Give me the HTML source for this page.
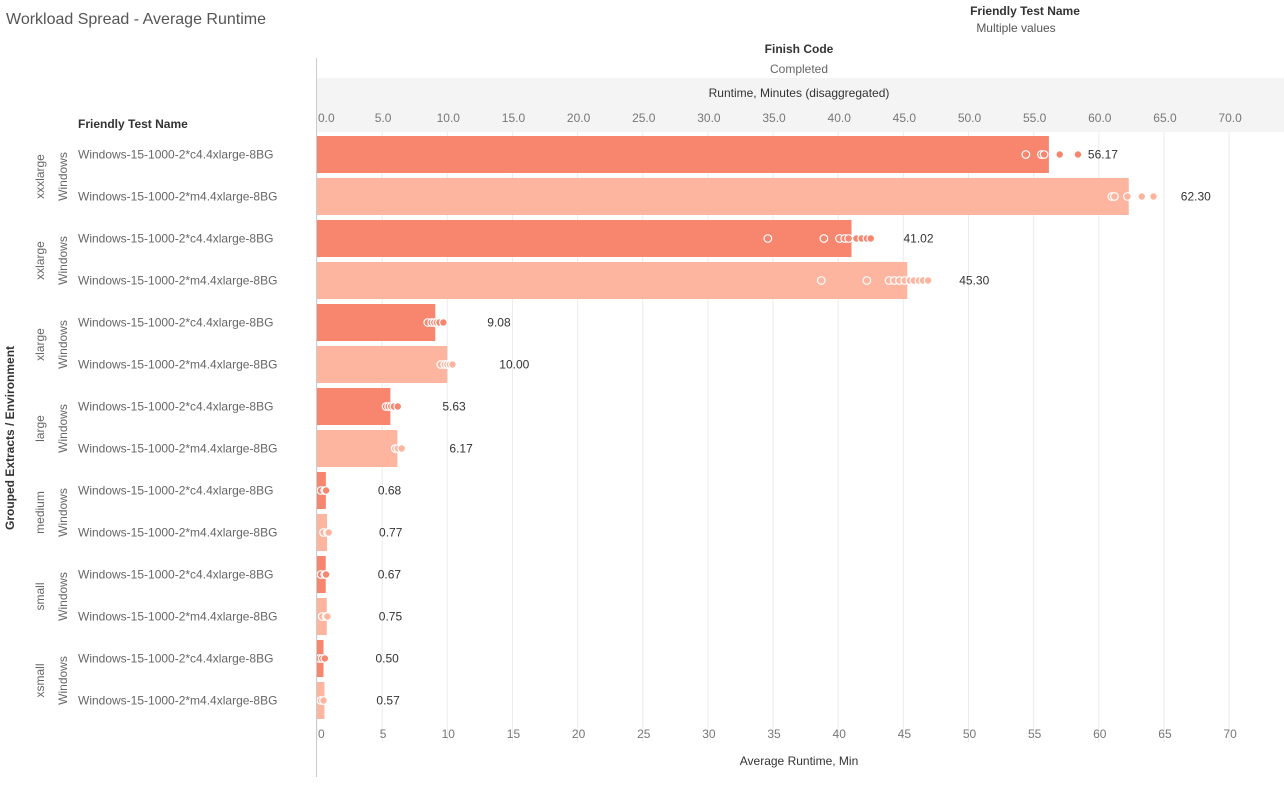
<!DOCTYPE html>
<html><head><meta charset="utf-8"><style>
body{margin:0;background:#fff;font-family:"Liberation Sans",sans-serif;}
svg text{font-family:"Liberation Sans",sans-serif;}
</style></head><body>
<svg id="chart" width="1284" height="784" xmlns="http://www.w3.org/2000/svg">
<text x="6" y="24" font-size="16" fill="#555">Workload Spread - Average Runtime</text>
<text x="1025" y="15" font-size="12" fill="#333" text-anchor="middle" font-weight="bold">Friendly Test Name</text>
<text x="1016" y="32" font-size="12" fill="#555" text-anchor="middle">Multiple values</text>
<text x="799" y="53" font-size="12" fill="#333" text-anchor="middle" font-weight="bold">Finish Code</text>
<text x="799" y="73" font-size="12" fill="#666" text-anchor="middle">Completed</text>
<rect x="317" y="78" width="967" height="54" fill="#f4f4f4"/>
<text x="799" y="97" font-size="12" fill="#333" text-anchor="middle">Runtime, Minutes (disaggregated)</text>
<text x="78" y="128" font-size="12" fill="#333" font-weight="bold">Friendly Test Name</text>
<text transform="translate(14,438) rotate(-90)" font-size="12" fill="#333" font-weight="bold" text-anchor="middle">Grouped Extracts / Environment</text>
<text x="799" y="765" font-size="12" fill="#333" text-anchor="middle">Average Runtime, Min</text>
<g id="grid"></g><g id="marks"></g>
<line x1="316.5" y1="58" x2="316.5" y2="777" stroke="#ccc"/>
</svg>
<script>
const groups = ["xxxlarge","xxlarge","xlarge","large","medium","small","xsmall"];
const tests = ["Windows-15-1000-2*c4.4xlarge-8BG","Windows-15-1000-2*m4.4xlarge-8BG"];
const avgValues = [56.17,62.30,41.02,45.30,9.08,10.00,5.63,6.17,0.68,0.77,0.67,0.75,0.50,0.57];
const runs = [
 [54.4,55.6,55.8,57.0,58.4],
 [61.0,61.2,62.2,63.3,64.2],
 [34.6,38.9,40.1,40.5,40.8,41.4,41.8,42.2,42.5],
 [38.7,42.2,43.9,44.3,44.7,45.1,45.5,45.8,46.2,46.5,46.9],
 [8.5,8.8,9.0,9.2,9.4,9.7],
 [9.5,9.8,10.0,10.2,10.4],
 [5.3,5.5,5.7,5.9,6.2],
 [6.0,6.2,6.5],
 [0.3,0.6,0.7],
 [0.5,0.8,0.9],
 [0.3,0.6,0.7],
 [0.4,0.7,0.8],
 [0.2,0.4,0.6],
 [0.3,0.5]
];
const tickValues = [0,5,10,15,20,25,30,35,40,45,50,55,60,65,70];
const tickLabelsTop = ["0.0","5.0","10.0","15.0","20.0","25.0","30.0","35.0","40.0","45.0","50.0","55.0","60.0","65.0","70.0"];
const tickLabelsBottom = ["0","5","10","15","20","25","30","35","40","45","50","55","60","65","70"];

const NS="http://www.w3.org/2000/svg";
const x0=317, pxPer=13.03;
function x(v){return x0+v*pxPer;}
const rowTop=134.5, rowH=42;
function yRow(i){return rowTop+i*rowH;}
function mk(tag,attrs,parent){const e=document.createElementNS(NS,tag);for(const k in attrs)e.setAttribute(k,attrs[k]);parent.appendChild(e);return e;}
const grid=document.getElementById('grid'), marks=document.getElementById('marks'), svg=document.getElementById('chart');
tickValues.forEach((t,i)=>{
 const gl=mk('line',{x1:x(t),x2:x(t),y1:132,y2:742,stroke:'#ececec'},grid);
 
 
 const first=(i===0);
 const tt=mk('text',{x:first?x(t)+1:x(t)+1,y:122,'font-size':12,fill:'#777','text-anchor':first?'start':'middle'},svg);
 tt.textContent=tickLabelsTop[i];
 
 
 const bt=mk('text',{x:first?x(t)+1:x(t)+1,y:738,'font-size':12,fill:'#777','text-anchor':first?'start':'middle'},svg);
 bt.textContent=tickLabelsBottom[i];
 
 
});
const colors=["#f8856e","#fdb59f"];
avgValues.forEach((v,i)=>{
 const y=yRow(i), c=colors[i%2];
 const b=mk('rect',{x:x0,y:y+1.5,width:x(v)-x0,height:37,fill:c},marks);
 
 
 runs[i].forEach(r=>{
  const d=mk('circle',{cx:x(r),cy:y+20,r:3.8,fill:c,stroke:'#fff','stroke-width':1.2},marks);
  
  
 });
 const lb=mk('text',{x:x(v)+(i===0?39:52),y:y+24,'font-size':12,fill:'#333'},marks);
 lb.textContent=v.toFixed(2);
 
 
 const tn=mk('text',{x:78,y:y+24,'font-size':12,fill:'#666'},svg);
 tn.textContent=tests[i%2];
 
 
});
groups.forEach((g,k)=>{
 const cy=yRow(2*k)+42;
 const gt=mk('text',{transform:`translate(44,${cy}) rotate(-90)`,'font-size':12,fill:'#666','text-anchor':'middle'},svg);
 gt.textContent=g;
 
 
 const et=mk('text',{transform:`translate(67,${cy}) rotate(-90)`,'font-size':12,fill:'#666','text-anchor':'middle'},svg);
 et.textContent='Windows';
 
 
});
</script>
</body></html>
